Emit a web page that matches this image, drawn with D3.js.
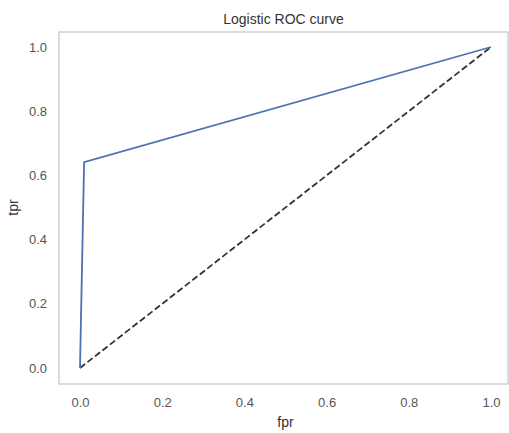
<!DOCTYPE html>
<html lang="en">
<head>
    <meta charset="UTF-8">
    <title>Logistic ROC curve</title>
    <style>
        body { margin: 0; background: #fff; }
        text { font-family: "Liberation Sans", Arial, sans-serif; }
        .tick text { font-size: 13px; fill: #555; }
        .tick line { display: none; }
        .domain { display: none; }
        .axis-label { font-size: 14px; fill: #333; }
        .title { font-size: 14px; fill: #333; }
    </style>
</head>
<body>
    <svg width="509" height="433"></svg>
    <script src="https://d3js.org/d3.v7.min.js"></script>
    <script>
        // ROC points
        const fpr = [0.0, 0.01, 1.0];
        const tpr = [0.0, 0.641, 1.0];
        const chance = [0.0, 1.0];
        const tickValues = [0.0, 0.2, 0.4, 0.6, 0.8, 1.0];

        const svg = d3.select('svg');

        // frame (spines) and the data area inside it
        const frame = { left: 59, right: 508, top: 32, bottom: 384 };

        const xScale = d3.scaleLinear().domain([0, 1]).range([80, 491]);
        const yScale = d3.scaleLinear().domain([0, 1]).range([368, 47]);

        // light grey spines
        svg.append('rect')
            .attr('x', frame.left)
            .attr('y', frame.top)
            .attr('width', frame.right - frame.left)
            .attr('height', frame.bottom - frame.top)
            .attr('fill', 'none')
            .attr('stroke', '#d0d0d0')
            .attr('stroke-width', 1.5);

        const xAxis = d3.axisBottom(xScale)
            .tickValues(tickValues)
            .tickFormat(d3.format('.1f'))
            .tickSize(0)
            .tickPadding(14);

        const yAxis = d3.axisLeft(yScale)
            .tickValues(tickValues)
            .tickFormat(d3.format('.1f'))
            .tickSize(0)
            .tickPadding(12);

        svg.append('g')
            .attr('transform', 'translate(0 ' + frame.bottom + ')')
            .call(xAxis);

        svg.append('g')
            .attr('transform', 'translate(' + frame.left + ' 0)')
            .call(yAxis);

        const line = d3.line()
            .x(function (d) { return xScale(d[0]); })
            .y(function (d) { return yScale(d[1]); });

        // chance diagonal
        svg.append('path')
            .attr('fill', 'none')
            .attr('stroke', '#333')
            .attr('stroke-width', 1.8)
            .attr('stroke-dasharray', '6.5 3')
            .attr('d', line(d3.zip(chance, chance)));

        // ROC curve
        svg.append('path')
            .attr('fill', 'none')
            .attr('stroke', '#4c72b0')
            .attr('stroke-width', 1.8)
            .attr('d', line(d3.zip(fpr, tpr)));

        svg.append('text')
            .attr('class', 'title')
            .attr('x', (frame.left + frame.right) / 2)
            .attr('y', 24)
            .attr('text-anchor', 'middle')
            .text('Logistic ROC curve');

        svg.append('text')
            .attr('class', 'axis-label')
            .attr('x', xScale(0.5))
            .attr('y', 427)
            .attr('text-anchor', 'middle')
            .text('fpr');

        svg.append('text')
            .attr('class', 'axis-label')
            .attr('transform', 'translate(18 ' + yScale(0.5) + ') rotate(-90)')
            .attr('text-anchor', 'middle')
            .text('tpr');
    </script>
</body>
</html>
